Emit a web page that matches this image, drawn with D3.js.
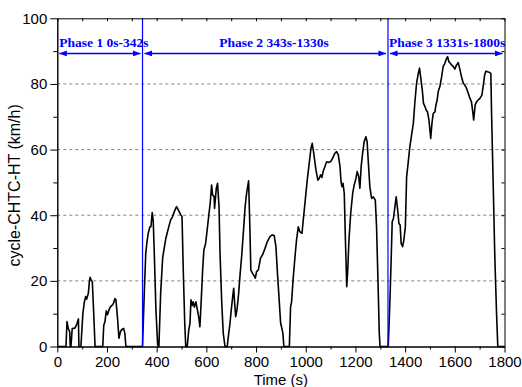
<!DOCTYPE html>
<html lang="en">
<head>
    <meta charset="UTF-8">
    <title>cycle-CHTC-HT</title>
    <script src="https://d3js.org/d3.v7.min.js"></script>
    <style>
        body { margin: 0; background: white; }
    </style>
</head>
<body>
    <script>
        // speed trace (s, km/h)
        var seconds = [0, 35, 39, 44, 50, 52, 55, 60, 71, 79, 85, 87, 95, 103, 109, 114, 118, 125, 129, 132, 136, 141, 146, 152,
            183, 187, 192, 197, 202, 208, 213, 221, 226, 232, 236, 243, 248, 254, 259, 267, 272, 276, 343,
            350, 356, 361, 366, 373, 377, 382, 386, 390, 397, 404, 409, 416, 424, 429, 437, 447, 456, 464, 471, 480, 487, 497, 502,
            507, 513, 517, 523, 529, 534, 538, 543, 547, 552, 558, 564, 569, 574, 580, 585, 590, 597, 604, 610, 616, 621, 625, 631,
            633, 640, 645, 651, 655, 662, 668, 675, 684, 690, 695, 700, 706, 710, 714, 718, 723, 730, 735, 743, 750, 756, 762, 770,
            775, 779, 786, 794, 797, 802, 809, 818, 826, 836, 845, 856, 865, 873, 880, 887, 893, 899, 904, 908, 912, 934, 939, 943,
            950, 958, 963, 970, 976, 985, 990, 998, 1006, 1014, 1021, 1026, 1032, 1041, 1049, 1054, 1060, 1065, 1070, 1077, 1084,
            1090, 1100, 1108, 1116, 1124, 1131, 1138, 1142, 1146, 1150, 1155, 1159, 1165, 1169, 1174, 1181, 1189, 1195, 1202, 1207,
            1213, 1218, 1223, 1229, 1235, 1242, 1247, 1253, 1258, 1265, 1272, 1280, 1285, 1291, 1296, 1299, 1332,
            1338, 1343, 1348, 1353, 1359, 1364, 1370, 1375, 1380, 1384, 1390, 1395, 1401, 1406, 1412, 1419, 1426, 1433, 1439, 1446,
            1453, 1458, 1464, 1469, 1474, 1480, 1485, 1490, 1496, 1503, 1508, 1513, 1520, 1524, 1529, 1533, 1540, 1547, 1553, 1560,
            1567, 1571, 1576, 1582, 1587, 1594, 1600, 1607, 1614, 1621, 1627, 1634, 1640, 1647, 1654, 1661, 1667, 1673, 1676, 1682,
            1688, 1694, 1701, 1709, 1714, 1720, 1725, 1732, 1740, 1745, 1748, 1755, 1761, 1768, 1773, 1800];
        var speedKmh = [0, 0, 7.6, 5.5, 4.5, 0, 0, 5.5, 5.6, 6.9, 8.4, 0, 0, 10.1, 13.6, 15.2, 14.4, 16.2, 19.7, 21.1, 20.3, 19.7, 11.1, 0,
            0, 6.5, 7.6, 10.9, 9.7, 11.1, 12, 12.6, 13.1, 14.6, 14.2, 8.1, 2.5, 4.5, 5.1, 5.5, 4, 0, 0,
            16.2, 28.4, 31.9, 34.5, 36.5, 36.5, 40.8, 38.5, 29.4, 11.1, 0.5, 0, 16.2, 26.9, 29.4, 33, 36, 38.5, 39.6, 41.1, 42.6, 41.6, 40.1, 39.6,
            23.3, 7, 0, 0, 5, 7, 14.2, 12.5, 13.6, 12, 13.6, 11.1, 9.1, 6, 15.2, 23.3, 29.4, 31.4, 36, 40.1, 44.1, 49.2, 46.2, 45.7,
            42.1, 48.2, 49.7, 42.6, 28.4, 13.2, 4, 0, 0, 4, 7, 11, 15.2, 17.7, 13, 9.1, 11, 16.2, 21.3, 28.4, 36, 42.6, 46.7, 50.5,
            36.5, 23.3, 22.3, 21.3, 20.8, 22.8, 23.3, 26.9, 27.9, 29.9, 31.9, 33.5, 34, 33.8, 30.4, 21.3, 14.2, 7.1, 5.5, 4, 0, 0, 12.1, 13.6,
            21.3, 28.4, 32.5, 36.5, 35, 34.5, 38.5, 44.6, 50.7, 55.8, 60.4, 61.9, 59, 53.8, 50.7, 51.2, 52.3, 51.5, 53.3, 54.8, 56.3,
            56.1, 56.3, 57.3, 58.7, 59.4, 58.4, 54.8, 50.2, 48.7, 49.7, 46.7, 34.5, 18.2, 23.3, 32.5, 40.6, 46.7, 49.2, 51.2, 53.3,
            51.8, 48.2, 54.8, 58.9, 62.4, 63.9, 62.4, 54.8, 48.7, 45.1, 45.6, 44.6, 36.5, 19.3, 4, 0, 0,
            12.1, 24.3, 38, 39, 42.6, 45.6, 41.6, 37.5, 37, 31.4, 30.4, 32.5, 36.5, 51.7, 55.8, 60.9, 64.4, 68, 74.1, 80.2,
            83.2, 84.8, 81.2, 78.2, 74.1, 73.1, 72, 71.5, 69, 63.4, 68, 71, 71.5, 73.6, 75.1, 77.6, 79.2, 82.2, 85.3, 86.3,
            87.8, 88.3, 86.8, 86.3, 85.8, 85.3, 84.5, 85.8, 86.5, 84.2, 82.2, 80.2, 79.7, 78.7, 77.2, 75.6, 74.6, 71, 69, 73.6,
            74.6, 75.1, 75.6, 76.6, 79.2, 82.7, 83.9, 83.7, 83.5, 83.2, 71, 47.7, 27.4, 10.1, 0, 0];

        // phases
        var phaseNames = ["Phase 1 0s-342s", "Phase 2 343s-1330s", "Phase 3 1331s-1800s"];
        var phaseStart = [0, 343, 1331];
        var phaseEnd = [343, 1331, 1800];
        var phaseLabelAt = [188, 872, 1569];
        var arrowLevel = 89.3;

        // ticks
        var yMajor = [0, 20, 40, 60, 80, 100];
        var yMinor = [10, 30, 50, 70, 90];
        var yGrid = [20, 40, 60, 80];
        var xMajor = [0, 200, 400, 600, 800, 1000, 1200, 1400, 1600, 1800];
        var xMinor = [100, 300, 500, 700, 900, 1100, 1300, 1500, 1700];

        var w = 522;
        var h = 387;
        var plotL = 57.3, plotR = 504.5, plotT = 18.3, plotB = 346.5;
        var font = "'Liberation Sans', Arial, sans-serif";

        var x = d3.scaleLinear().domain([0, 1800]).range([plotL, plotR]);
        var y = d3.scaleLinear().domain([0, 100]).range([plotB, plotT]);

        var svg = d3.select("body")
                    .append("svg")
                    .attr("width", w)
                    .attr("height", h)
                    .style("display", "block");

        var blue = "#0000ff";
        var defs = svg.append("defs");
        defs.append("marker")
            .attr("id", "headEnd")
            .attr("markerUnits", "userSpaceOnUse")
            .attr("viewBox", "0 0 10 8")
            .attr("refX", 10).attr("refY", 4)
            .attr("markerWidth", 9).attr("markerHeight", 6)
            .attr("orient", "auto")
            .append("path").attr("d", "M0,0L10,4L0,8Z").attr("fill", blue);
        defs.append("marker")
            .attr("id", "headStart")
            .attr("markerUnits", "userSpaceOnUse")
            .attr("viewBox", "0 0 10 8")
            .attr("refX", 0).attr("refY", 4)
            .attr("markerWidth", 9).attr("markerHeight", 6)
            .attr("orient", "auto")
            .append("path").attr("d", "M10,0L0,4L10,8Z").attr("fill", blue);

        // dashed grid
        svg.selectAll(".grid")
            .data(yGrid)
            .join("line")
            .attr("class", "grid")
            .attr("x1", plotL).attr("x2", plotR)
            .attr("y1", (d) => y(d)).attr("y2", (d) => y(d))
            .attr("stroke", "#808080")
            .attr("stroke-width", 1)
            .attr("stroke-dasharray", "3,3");

        // speed line
        var pts = seconds.map((t, i) => [t, speedKmh[i]]);
        svg.append("path")
            .datum(pts)
            .attr("fill", "none")
            .attr("stroke", "black")
            .attr("stroke-width", 1.6)
            .attr("stroke-linejoin", "round")
            .attr("d", d3.line().x((d) => x(d[0])).y((d) => y(d[1])));

        // phase boundaries
        svg.selectAll(".boundary")
            .data(phaseStart.slice(1))
            .join("line")
            .attr("class", "boundary")
            .attr("x1", (d) => x(d)).attr("x2", (d) => x(d))
            .attr("y1", plotB).attr("y2", plotT)
            .attr("stroke", blue)
            .attr("stroke-width", 1.2);

        // phase arrows
        svg.selectAll(".arrow")
            .data(phaseNames)
            .join("line")
            .attr("class", "arrow")
            .attr("x1", (d, i) => x(phaseStart[i]) + 2)
            .attr("x2", (d, i) => x(phaseEnd[i]) - 2)
            .attr("y1", y(arrowLevel)).attr("y2", y(arrowLevel))
            .attr("stroke", blue)
            .attr("stroke-width", 1.5)
            .attr("marker-start", "url(#headStart)")
            .attr("marker-end", "url(#headEnd)");

        svg.selectAll(".phase")
            .data(phaseNames)
            .join("text")
            .attr("class", "phase")
            .attr("x", (d, i) => x(phaseLabelAt[i]))
            .attr("y", y(arrowLevel) - 6)
            .attr("text-anchor", "middle")
            .attr("font-family", "'Liberation Serif', 'Times New Roman', serif")
            .attr("font-weight", "bold")
            .attr("font-size", "13.5px")
            .attr("fill", blue)
            .text((d) => d);

        // axes
        function styleAxis(g) {
            g.selectAll("path, line").attr("stroke", "black").attr("stroke-width", 1);
            g.selectAll("text").attr("font-family", font).attr("font-size", "15px").attr("fill", "black");
        }

        svg.append("g")
            .attr("transform", "translate(0," + plotB + ")")
            .call(d3.axisBottom(x).tickValues(xMajor).tickSize(6).tickSizeOuter(0).tickPadding(4).tickFormat(d3.format("d")))
            .call(styleAxis);
        svg.append("g")
            .attr("transform", "translate(0," + plotB + ")")
            .call(d3.axisBottom(x).tickValues(xMinor).tickSize(3).tickSizeOuter(0).tickFormat(""))
            .call(styleAxis);
        svg.append("g")
            .attr("transform", "translate(" + plotL + ",0)")
            .call(d3.axisLeft(y).tickValues(yMajor).tickSize(7).tickSizeOuter(0).tickPadding(3).tickFormat(d3.format("d")))
            .call(styleAxis);
        svg.append("g")
            .attr("transform", "translate(" + plotL + ",0)")
            .call(d3.axisLeft(y).tickValues(yMinor).tickSize(4).tickSizeOuter(0).tickFormat(""))
            .call(styleAxis);
        svg.append("g")
            .attr("transform", "translate(0," + plotT + ")")
            .call(d3.axisTop(x).tickValues(xMajor.concat(xMinor)).tickSize(-3).tickSizeOuter(0).tickFormat(""))
            .call(styleAxis);
        svg.append("g")
            .attr("transform", "translate(" + plotR + ",0)")
            .call(d3.axisRight(y).tickValues(yMajor.concat(yMinor)).tickSize(-3).tickSizeOuter(0).tickFormat(""))
            .call(styleAxis);

        // axis titles
        svg.append("text")
            .attr("transform", "translate(19.5," + ((plotT + plotB) / 2 + 3) + ") rotate(-90)")
            .attr("text-anchor", "middle")
            .attr("font-family", font)
            .attr("font-size", "16px")
            .text("cycle-CHTC-HT (km/h)");
        svg.append("text")
            .attr("x", (plotL + plotR) / 2)
            .attr("y", 385)
            .attr("text-anchor", "middle")
            .attr("font-family", font)
            .attr("font-size", "15px")
            .text("Time (s)");
    </script>
</body>
</html>
